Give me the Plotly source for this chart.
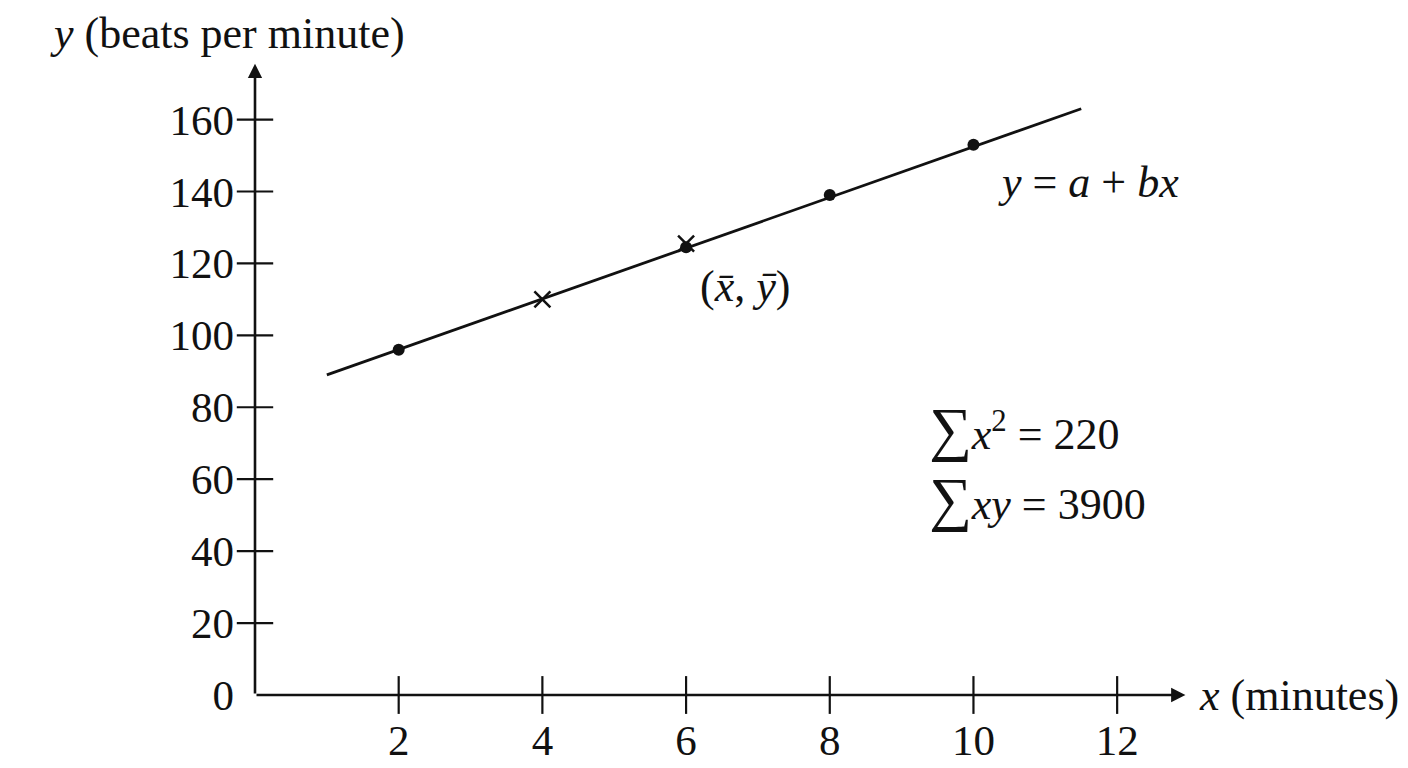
import plotly.graph_objects as go

# data
dot_x = [2, 6, 8, 10]
dot_y = [96, 124.5, 139, 153]
cross_x = [4, 6]
cross_y = [110, 125.5]
line_x = [1, 11.5]
line_y = [89, 163]

x_ticks = [2, 4, 6, 8, 10, 12]
y_ticks = [0, 20, 40, 60, 80, 100, 120, 140, 160]

FONT = "Liberation Serif"
BLACK = "#111111"

fig = go.Figure()

# tick marks crossing the axes
fig.add_trace(go.Scatter(
    x=x_ticks, y=[0] * len(x_ticks), mode="markers",
    marker=dict(symbol="line-ns", size=27, line=dict(width=2.2, color=BLACK)),
    cliponaxis=False, hoverinfo="skip"))
fig.add_trace(go.Scatter(
    x=[0] * (len(y_ticks) - 1), y=y_ticks[1:], mode="markers",
    marker=dict(symbol="line-ew", size=26, line=dict(width=2.2, color=BLACK)),
    cliponaxis=False, hoverinfo="skip"))

# regression line
fig.add_trace(go.Scatter(x=line_x, y=line_y, mode="lines",
                         line=dict(color=BLACK, width=2.8)))
fig.add_trace(go.Scatter(x=dot_x, y=dot_y, mode="markers",
                         marker=dict(color=BLACK, size=12)))
fig.add_trace(go.Scatter(x=cross_x, y=cross_y, mode="markers",
                         marker=dict(symbol="x-thin-open", size=16, color=BLACK,
                                     line=dict(width=2.5, color=BLACK))))

# axes with arrowheads
fig.add_annotation(x=12.95, y=0, ax=0, ay=0, axref="x", ayref="y",
                   showarrow=True, arrowhead=2, arrowsize=1.1, arrowwidth=2.6,
                   arrowcolor=BLACK, text="")
fig.add_annotation(x=0, y=175.5, ax=0, ay=0, axref="x", ayref="y",
                   showarrow=True, arrowhead=2, arrowsize=1.1, arrowwidth=2.6,
                   arrowcolor=BLACK, text="")

txt = dict(family=FONT, size=44, color=BLACK)
fig.add_annotation(xref="paper", yref="paper", x=-0.029, y=1.045,
                   xanchor="center", yanchor="middle",
                   text="<i>y</i> (beats per minute)",
                   showarrow=False, font=txt)
fig.add_annotation(xref="paper", yref="paper", x=1.009, y=0,
                   xanchor="left", yanchor="middle",
                   text="<i>x</i> (minutes)", showarrow=False, font=txt)
fig.add_annotation(x=11.6, y=142.5, text="<i>y</i> = <i>a</i> + <i>bx</i>",
                   showarrow=False, font=txt)
fig.add_annotation(x=6.82, y=113.5, text="(<i>x\u0304</i>, <i>\u0233</i>)",
                   showarrow=False, font=txt)
fig.add_annotation(x=9.35, y=74, xanchor="left",
                   text="<span style='font-size:60px'>\u2211</span><i>x</i><sup>2</sup> = 220",
                   showarrow=False, font=txt)
fig.add_annotation(x=9.35, y=54.5, xanchor="left",
                   text="<span style='font-size:60px'>\u2211</span><i>xy</i> = 3900",
                   showarrow=False, font=txt)

axis_common = dict(showgrid=False, zeroline=False, showline=False, ticks="",
                   tickfont=dict(family=FONT, size=43, color=BLACK))
fig.update_xaxes(range=[0, 13], tickvals=x_ticks, ticklabelstandoff=16,
                 **axis_common)
fig.update_yaxes(range=[0, 176], tickvals=y_ticks, ticklabelstandoff=20,
                 **axis_common)

fig.update_layout(
    width=1408, height=768,
    margin=dict(l=247, r=227, t=54, b=66),
    plot_bgcolor="white", paper_bgcolor="white",
    showlegend=False,
)

fig.write_html("out.html")
